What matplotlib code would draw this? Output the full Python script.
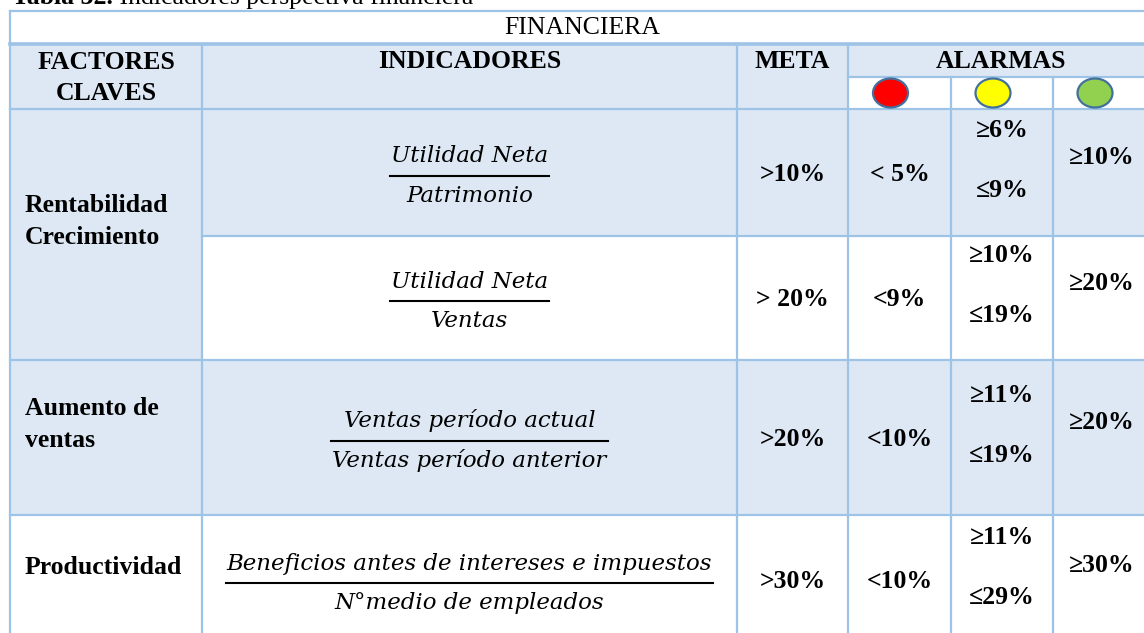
import matplotlib.pyplot as plt
from matplotlib.patches import Rectangle, Ellipse

# table content
title_bold = "Tabla 32."
title_rest = " Indicadores perspectiva financiera"
section = "FINANCIERA"
headers = ["FACTORES\nCLAVES", "INDICADORES", "META", "ALARMAS"]
alarm_colors = ["#FF0000", "#FFFF00", "#92D050"]

factors = ["Rentabilidad\nCrecimiento", "Aumento de\nventas", "Productividad"]
factor_rows = [[0, 1], [2], [3]]  # which indicator rows each factor spans

numerators = ["Utilidad Neta", "Utilidad Neta", "Ventas período actual",
              "Beneficios antes de intereses e impuestos"]
denominators = ["Patrimonio", "Ventas", "Ventas período anterior",
                "N°medio de empleados"]
metas = [">10%", "> 20%", ">20%", ">30%"]
red_alarm = ["< 5%", "<9%", "<10%", "<10%"]
yellow_hi = ["≥6%", "≥10%", "≥11%", "≥11%"]
yellow_lo = ["≤9%", "≤19%", "≤19%", "≤29%"]
green_alarm = ["≥10%", "≥20%", "≥20%", "≥30%"]
row_shaded = [True, False, True, False]

# layout (pixels)
cols = [10, 202, 737, 848, 951, 1053, 1155]
y_top, y_head, y_sub, y_body = 11, 44, 77, 109
row_edges = [109, 236, 360, 515, 645]
blue = "#DDE8F4"
grid = "#9DC3E6"
fs = 18.5
serif = "Liberation Serif"

fig = plt.figure(figsize=(11.44, 6.33), dpi=100)
ax = fig.add_axes([0, 0, 1, 1])
ax.set_xlim(0, 1144)
ax.set_ylim(633, 0)
ax.axis("off")

def cell(x0, x1, y0, y1, color):
    ax.add_patch(Rectangle((x0, y0), x1 - x0, y1 - y0, facecolor=color, edgecolor="none", zorder=0))

# backgrounds
cell(cols[0], cols[3], y_head, y_body, blue)
cell(cols[3], cols[6], y_head, y_sub, blue)
cell(cols[0], cols[1], row_edges[0], row_edges[2], blue)
for i, shaded in enumerate(row_shaded):
    if shaded:
        cell(cols[1], cols[6], row_edges[i], row_edges[i + 1], blue)
        cell(cols[0], cols[1], row_edges[i], row_edges[i + 1], blue)

# grid lines
lw = 1.6
ax.plot([cols[0], cols[6]], [y_top, y_top], color=grid, lw=lw)
ax.plot([cols[0], cols[6]], [y_head, y_head], color=grid, lw=2.6)
ax.plot([cols[3], cols[6]], [y_sub, y_sub], color=grid, lw=lw)
ax.plot([cols[0], cols[6]], [y_body, y_body], color=grid, lw=lw)
for i, y in enumerate(row_edges[1:-1], start=1):
    x0 = cols[1] if i == 1 else cols[0]
    ax.plot([x0, cols[6]], [y, y], color=grid, lw=lw)
ax.plot([cols[0], cols[0]], [y_top, 645], color=grid, lw=lw)
for x in cols[1:4]:
    ax.plot([x, x], [y_head, 645], color=grid, lw=lw)
for x in cols[4:6]:
    ax.plot([x, x], [y_sub, 645], color=grid, lw=lw)

# caption (cut at top edge, as in the source)
t = ax.text(12, 4, title_bold, fontsize=18.5, family=serif, weight="bold", va="baseline")
fig.canvas.draw()
bb = t.get_window_extent()
ax.text(12 + bb.width, 4, title_rest, fontsize=18.5, family=serif, va="baseline")

mid = lambda a, b: (a + b) / 2
ax.text(mid(cols[0], cols[6]), mid(y_top, y_head) + 1, section, fontsize=fs, family=serif,
        ha="center", va="center")
ax.text(mid(cols[0], cols[1]), 78, headers[0], fontsize=fs, family=serif, weight="bold",
        ha="center", va="center", linespacing=1.4)
ax.text(mid(cols[1], cols[2]), 62, headers[1], fontsize=fs, family=serif, weight="bold",
        ha="center", va="center")
ax.text(mid(cols[2], cols[3]), 62, headers[2], fontsize=fs, family=serif, weight="bold",
        ha="center", va="center")
ax.text(mid(cols[3], cols[6]), 62, headers[3], fontsize=fs, family=serif, weight="bold",
        ha="center", va="center")

# alarm lights
for k, c in enumerate(alarm_colors):
    cx = mid(cols[3 + k], cols[4 + k]) - 9
    ax.add_patch(Ellipse((cx, 93), 35, 29, facecolor=c, edgecolor="#41719C", lw=1.6, zorder=3))

# factor labels
for name, rows in zip(factors, factor_rows):
    yc = mid(row_edges[rows[0]], row_edges[rows[-1] + 1]) - 13
    ax.text(25, yc, name, fontsize=fs, family=serif, weight="bold", ha="left", va="center",
            linespacing=1.45)

# body rows
for i in range(len(numerators)):
    yc = mid(row_edges[i], row_edges[i + 1])
    ly = yc + 3
    xc = mid(cols[1], cols[2])
    n = ax.text(xc, ly - 13, numerators[i], fontsize=16.5, family="DejaVu Serif", style="italic",
                ha="center", va="baseline")
    d = ax.text(xc, ly + 26, denominators[i], fontsize=16.5, family="DejaVu Serif", style="italic",
                ha="center", va="baseline")
    fig.canvas.draw()
    w = max(n.get_window_extent().width, d.get_window_extent().width)
    ax.plot([xc - w / 2 - 1, xc + w / 2 + 1], [ly, ly], color="black", lw=1.5)

    ax.text(mid(cols[2], cols[3]), yc + 2, metas[i], fontsize=fs, family=serif, weight="bold",
            ha="center", va="center")
    ax.text(mid(cols[3], cols[4]), yc + 2, red_alarm[i], fontsize=fs, family=serif, weight="bold",
            ha="center", va="center")
    ax.text(mid(cols[4], cols[5]), yc - 42, yellow_hi[i], fontsize=fs, family=serif, weight="bold",
            ha="center", va="center")
    ax.text(mid(cols[4], cols[5]), yc + 18, yellow_lo[i], fontsize=fs, family=serif, weight="bold",
            ha="center", va="center")
    ax.text(mid(cols[5], cols[6]) - 2, yc - 15, green_alarm[i], fontsize=fs, family=serif,
            weight="bold", ha="center", va="center")

fig.savefig("out.png", dpi=100)
